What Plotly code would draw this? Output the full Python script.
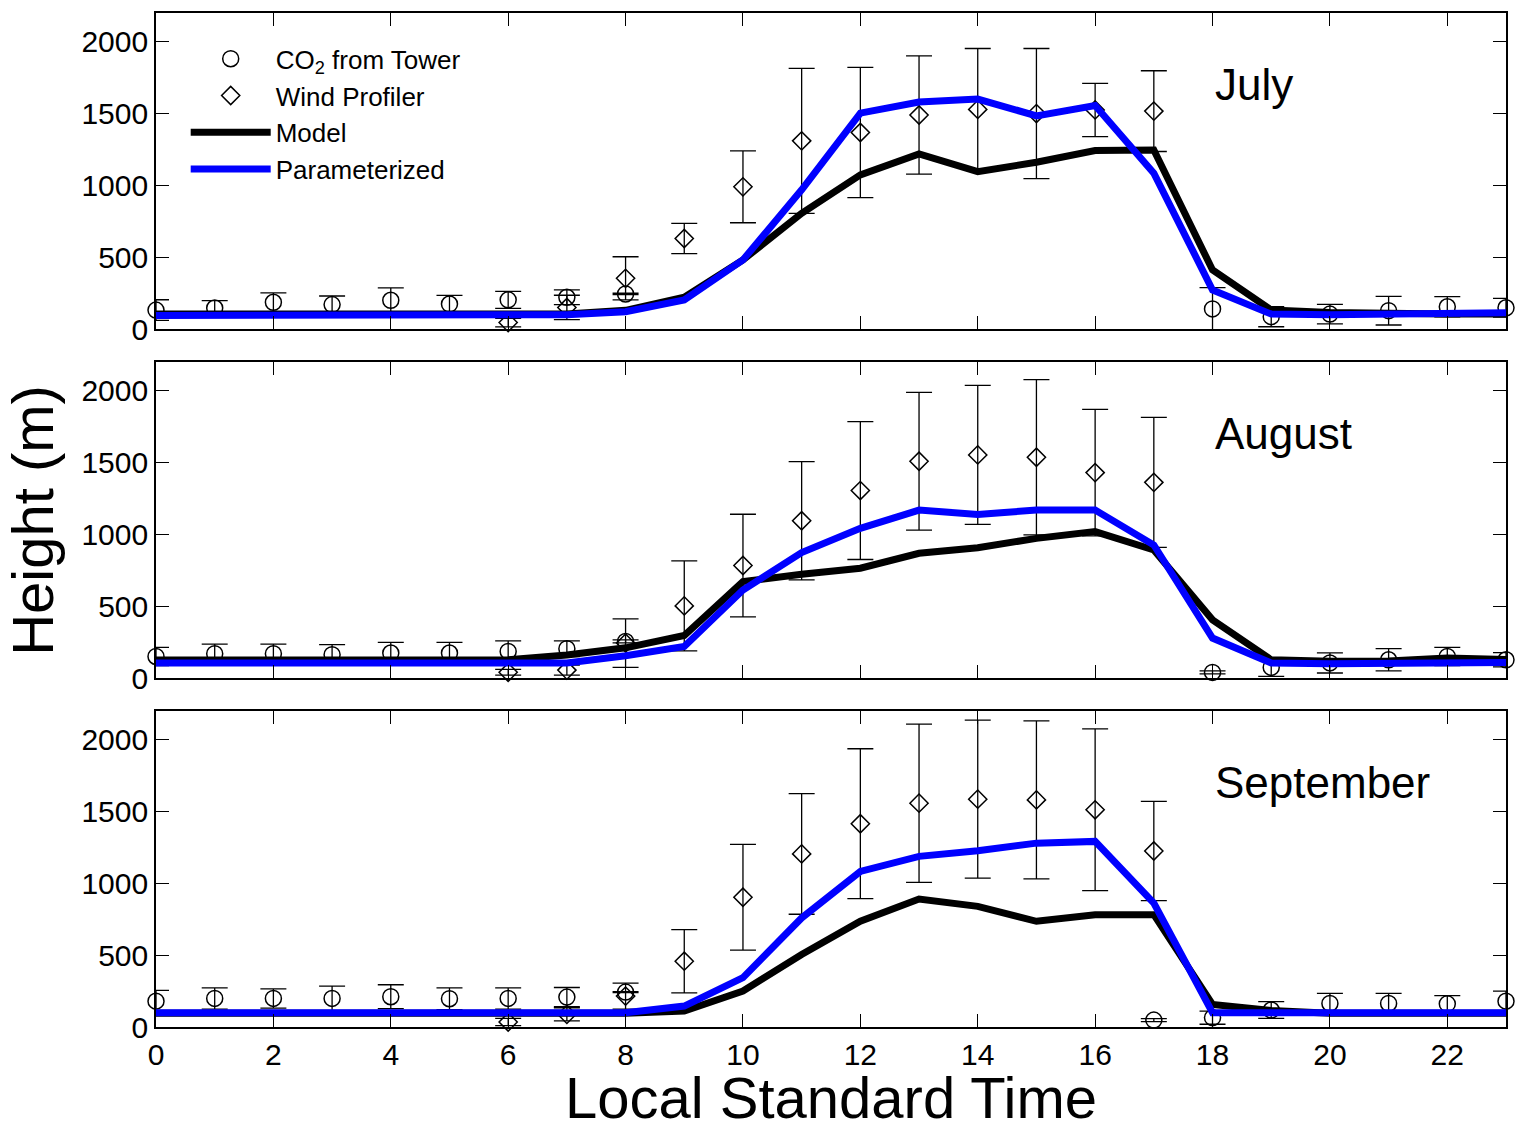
import plotly.graph_objects as go
from plotly.subplots import make_subplots

hours = list(range(24))
months = ["July", "August", "September"]

# CO2 from tower (None = no observation)
co2_jul = [132, 146, 186, 170, 200, 174, 203, 221, 244, None, None, None, None, None, None, None, None, None, 140, 86, 104, 128, 155, 148]
co2_jul_err = [72, 52, 65, 60, 86, 60, 59, 51, 5, None, None, None, None, None, None, None, None, None, 148, 70, 68, 100, 70, 65]
co2_aug = [150, 169, 169, 162, 174, 174, 185, 204, 255, None, None, None, None, None, None, None, None, None, 39, 74, 105, 127, 150, 127]
co2_aug_err = [63, 67, 67, 70, 74, 74, 74, 55, 10, None, None, None, None, None, None, None, None, None, 10, 62, 70, 77, 63, 50]
co2_sep = [180, 199, 199, 199, 211, 197, 199, 208, 243, None, None, None, None, None, None, None, None, 48, 65, 118, 164, 164, 161, 180]
co2_sep_err = [75, 74, 67, 86, 83, 76, 74, 67, 3, None, None, None, None, None, None, None, None, 10, 46, 58, 70, 70, 57, 70]

# Wind profiler
wp_jul = [None] * 6 + [45, 150, 353, 630, 990, 1310, 1368, 1490, 1529, 1500, 1525, 1517] + [None] * 6
wp_jul_err = [None] * 6 + [30, 85, 150, 105, 250, 505, 453, 412, 424, 453, 185, 281] + [None] * 6
wp_aug = [None] * 6 + [40, 55, 243, 502, 783, 1095, 1305, 1509, 1553, 1537, 1430, 1362] + [None] * 6
wp_aug_err = [None] * 6 + [20, 35, 169, 313, 357, 412, 480, 479, 484, 540, 440, 453] + [None] * 6
wp_sep = [None] * 6 + [35, 88, 215, 458, 903, 1205, 1415, 1558, 1586, 1581, 1512, 1225] + [None] * 6
wp_sep_err = [None] * 6 + [25, 46, 90, 220, 368, 420, 522, 551, 550, 550, 563, 345] + [None] * 6

# Model
model_jul = [104, 104, 104, 104, 104, 104, 104, 104, 130, 221, 481, 806, 1073, 1219, 1096, 1161, 1243, 1247, 411, 132, 115, 105, 105, 105]
model_aug = [125, 125, 125, 125, 125, 125, 127, 160, 210, 296, 671, 722, 764, 868, 907, 972, 1019, 891, 405, 127, 116, 118, 139, 128]
model_sep = [95, 95, 95, 95, 95, 95, 95, 95, 95, 111, 250, 505, 736, 891, 840, 736, 782, 782, 157, 115, 95, 95, 95, 95]

# Parameterized
param_jul = [95, 95, 95, 96, 96, 95, 95, 100, 121, 202, 481, 969, 1503, 1580, 1601, 1484, 1556, 1085, 272, 104, 100, 102, 108, 114]
param_aug = [104, 104, 104, 104, 104, 104, 104, 105, 155, 220, 613, 873, 1042, 1169, 1139, 1169, 1169, 926, 278, 104, 100, 104, 106, 108]
param_sep = [100, 100, 100, 100, 100, 100, 100, 100, 100, 146, 343, 759, 1083, 1188, 1227, 1280, 1292, 863, 100, 100, 100, 100, 100, 100]

co2 = [(co2_jul, co2_jul_err), (co2_aug, co2_aug_err), (co2_sep, co2_sep_err)]
wp = [(wp_jul, wp_jul_err), (wp_aug, wp_aug_err), (wp_sep, wp_sep_err)]
model = [model_jul, model_aug, model_sep]
param = [param_jul, param_aug, param_sep]

FONT = "Liberation Sans, Arial, Helvetica, sans-serif"

fig = make_subplots(rows=3, cols=1, shared_xaxes=False, vertical_spacing=0.0325)

for i in range(3):
    r = i + 1
    first = i == 0
    ys, es = co2[i]
    fig.add_trace(go.Scatter(
        x=hours, y=ys, mode="markers", name="CO<sub>2</sub> from Tower",
        showlegend=first, legendrank=1,
        marker=dict(symbol="circle-open", size=16, color="black", line=dict(width=1.5, color="black")),
        error_y=dict(type="data", array=es, visible=True, color="black", thickness=1.3, width=13),
        cliponaxis=False), row=r, col=1)
    ys, es = wp[i]
    fig.add_trace(go.Scatter(
        x=hours, y=ys, mode="markers", name="Wind Profiler",
        showlegend=first, legendrank=2,
        marker=dict(symbol="diamond-open", size=14, color="black", line=dict(width=1.5, color="black")),
        error_y=dict(type="data", array=es, visible=True, color="black", thickness=1.3, width=13),
        cliponaxis=False), row=r, col=1)
    fig.add_trace(go.Scatter(
        x=hours, y=model[i], mode="lines", name="Model", showlegend=first, legendrank=3,
        line=dict(color="black", width=7)), row=r, col=1)
    fig.add_trace(go.Scatter(
        x=hours, y=param[i], mode="lines", name="Parameterized", showlegend=first, legendrank=4,
        line=dict(color="#0000ff", width=7)), row=r, col=1)

    fig.update_yaxes(row=r, col=1, range=[0, 2200], tickvals=[0, 500, 1000, 1500, 2000],
                     ticks="inside", ticklen=13, tickwidth=1.3, tickcolor="black",
                     showline=True, linecolor="black", linewidth=1.6, mirror="ticks",
                     showgrid=False, zeroline=False,
                     tickfont=dict(family=FONT, size=30, color="black"))
    fig.update_xaxes(row=r, col=1, range=[0, 23], tickvals=list(range(0, 23, 2)),
                     ticks="inside", ticklen=13, tickwidth=1.3, tickcolor="black",
                     showline=True, linecolor="black", linewidth=1.6, mirror="ticks",
                     showgrid=False, zeroline=False, showticklabels=(r == 3),
                     tickfont=dict(family=FONT, size=30, color="black"))
    xref = "x" if r == 1 else f"x{r}"
    yref = "y" if r == 1 else f"y{r}"
    fig.add_annotation(x=18, y=1700, xref=xref, yref=yref, text=months[i], showarrow=False,
                       xanchor="left", yanchor="middle",
                       font=dict(family=FONT, size=44, color="black"))

fig.add_annotation(x=0.5, y=-0.070, xref="paper", yref="paper", text="Local Standard Time",
                   showarrow=False, xanchor="center", yanchor="middle",
                   font=dict(family=FONT, size=58, color="black"))

fig.add_annotation(x=-0.092, y=0.5, xref="paper", yref="paper", text="Height (m)", textangle=-90,
                   showarrow=False, xanchor="center", yanchor="middle",
                   font=dict(family=FONT, size=58, color="black"))

fig.update_layout(
    width=1516, height=1127,
    margin=dict(l=156, r=8, t=13, b=100),
    paper_bgcolor="white", plot_bgcolor="white",
    legend=dict(x=0.022, y=0.978, xanchor="left", yanchor="top", bgcolor="rgba(0,0,0,0)",
                font=dict(family=FONT, size=26, color="black"), itemwidth=80,
                tracegroupgap=0),
)

fig.write_html("out.html", config={"displayModeBar": False},
               post_script="document.body.style.margin='0';document.body.style.overflow='hidden';")
